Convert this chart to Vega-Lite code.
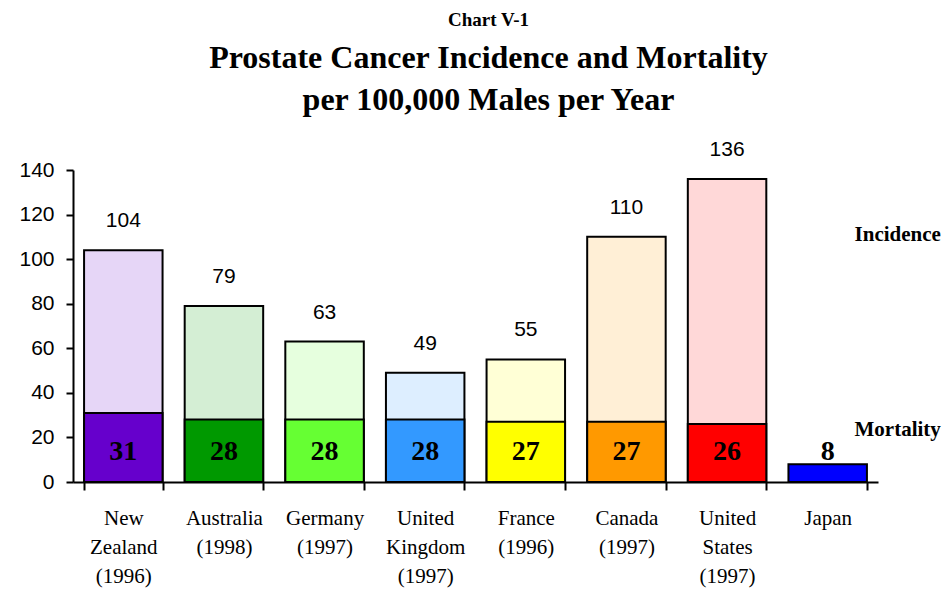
{
  "$schema": "https://vega.github.io/schema/vega-lite/v6.json",
  "width": 805,
  "height": 312,
  "autosize": {"type": "none"},
  "padding": {"left": 73, "top": 170, "right": 69, "bottom": 108},
  "background": "white",
  "title": {
    "text": "Chart V-1",
    "subtitle": ["Prostate Cancer Incidence and Mortality", "per 100,000 Males per Year"],
    "anchor": "middle",
    "frame": "group",
    "dx": 13,
    "offset": 23,
    "font": "Liberation Serif",
    "fontSize": 19,
    "fontWeight": "bold",
    "color": "black",
    "subtitleFont": "Liberation Serif",
    "subtitleFontSize": 32,
    "subtitleFontWeight": "bold",
    "subtitleColor": "black",
    "subtitleLineHeight": 42,
    "subtitlePadding": 13
  },
  "data": {
    "values": [
      {"country": "New|Zealand|(1996)", "incidence": 104, "mortality": 31},
      {"country": "Australia|(1998)", "incidence": 79, "mortality": 28},
      {"country": "Germany|(1997)", "incidence": 63, "mortality": 28},
      {"country": "United|Kingdom|(1997)", "incidence": 49, "mortality": 28},
      {"country": "France|(1996)", "incidence": 55, "mortality": 27},
      {"country": "Canada|(1997)", "incidence": 110, "mortality": 27},
      {"country": "United|States|(1997)", "incidence": 136, "mortality": 26},
      {"country": "Japan", "incidence": null, "mortality": 8}
    ]
  },
  "encoding": {
    "x": {
      "field": "country",
      "type": "nominal",
      "sort": null,
      "scale": {"paddingInner": 0.22, "paddingOuter": 0.11},
      "axis": {
        "title": null,
        "labelAngle": 0,
        "labelExpr": "isString(datum.value) ? split(datum.value, '|') : ''",
        "labelFont": "Liberation Serif",
        "labelFontSize": 21,
        "labelColor": "black",
        "labelLineHeight": 29,
        "labelPadding": 17,
        "labelBaseline": "top",
        "tickBand": "extent",
        "tickSize": 8,
        "tickColor": "black",
        "tickWidth": 2,
        "domainColor": "black",
        "domainWidth": 2
      }
    }
  },
  "layer": [
    {
      "mark": {"type": "bar", "stroke": "black", "strokeWidth": 2},
      "encoding": {
        "y": {
          "field": "incidence",
          "type": "quantitative",
          "scale": {"domain": [0, 140]},
          "axis": {
            "title": null,
            "values": [0, 20, 40, 60, 80, 100, 120, 140],
            "grid": false,
            "labelFont": "Liberation Sans",
            "labelFontSize": 21,
            "labelColor": "black",
            "labelPadding": 12,
            "tickSize": 7,
            "tickColor": "black",
            "tickWidth": 2,
            "domainColor": "black",
            "domainWidth": 2
          }
        },
        "color": {
          "field": "country",
          "type": "nominal",
          "sort": null,
          "legend": null,
          "scale": {
            "domain": ["New|Zealand|(1996)", "Australia|(1998)", "Germany|(1997)", "United|Kingdom|(1997)", "France|(1996)", "Canada|(1997)", "United|States|(1997)", "Japan"],
            "range": ["#e6d6f7", "#d4eed4", "#e6ffde", "#ddeeff", "#ffffd6", "#ffefd6", "#ffd8d8", "#ccccff"]
          }
        }
      }
    },
    {
      "mark": {"type": "text", "baseline": "bottom", "dy": -19, "font": "Liberation Sans", "fontSize": 21, "color": "black"},
      "encoding": {
        "y": {"field": "incidence", "type": "quantitative"},
        "text": {"field": "incidence", "type": "quantitative"}
      }
    },
    {
      "mark": {"type": "bar", "stroke": "black", "strokeWidth": 2},
      "encoding": {
        "y": {"field": "mortality", "type": "quantitative"},
        "fill": {
          "field": "country",
          "type": "nominal",
          "sort": null,
          "legend": null,
          "scale": {
            "domain": ["New|Zealand|(1996)", "Australia|(1998)", "Germany|(1997)", "United|Kingdom|(1997)", "France|(1996)", "Canada|(1997)", "United|States|(1997)", "Japan"],
            "range": ["#6600cc", "#009900", "#66ff33", "#3399ff", "#ffff00", "#ff9900", "#ff0000", "#0000ff"]
          }
        }
      }
    },
    {
      "mark": {"type": "text", "baseline": "middle", "font": "Liberation Serif", "fontSize": 28, "fontWeight": "bold", "color": "black"},
      "encoding": {
        "y": {"datum": 13.5},
        "text": {"field": "mortality", "type": "quantitative"}
      }
    },
    {
      "data": {"values": [{"country": "Japan", "label": "Incidence", "yv": 111}, {"country": "Japan", "label": "Mortality", "yv": 23.5}]},
      "mark": {"type": "text", "baseline": "middle", "align": "center", "dx": 70, "font": "Liberation Serif", "fontSize": 21, "fontWeight": "bold", "color": "black"},
      "encoding": {
        "y": {"field": "yv", "type": "quantitative"},
        "text": {"field": "label"}
      }
    }
  ],
  "resolve": {"scale": {"color": "independent"}},
  "config": {"view": {"stroke": null}}
}
